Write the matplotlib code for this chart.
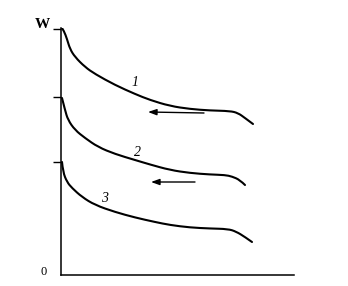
import matplotlib
matplotlib.use("Agg")
import matplotlib.pyplot as plt
from matplotlib.path import Path
from matplotlib.patches import PathPatch

# Curve data (arbitrary units: x = time, y = W)
c1_x = [1, 3, 6, 9, 14, 24, 34, 54, 74, 89, 109, 129, 149, 169, 177, 184, 192]
c1_y = [247, 244, 236, 226, 218, 208, 201, 190, 181, 175, 169, 166, 164.5, 164, 162, 157, 151]

c2_x = [1, 4, 7, 14, 24, 37, 54, 74, 89, 109, 129, 149, 164, 171, 179, 184]
c2_y = [177, 165, 155, 145, 137, 128, 121, 115, 110.5, 105, 102, 100.5, 100, 98.5, 95, 90]

c3_x = [1, 2, 6, 11, 21, 34, 54, 74, 94, 109, 129, 149, 167, 175, 184, 191]
c3_y = [113, 103, 93, 87, 78, 70, 63, 57.5, 53, 50, 47.5, 46.5, 46, 43.5, 38, 33]

curve_labels = ["1", "2", "3"]
label_pos = [(74, 192), (77, 122), (44, 77)]

arrow_start = [(143, 162), (134, 93)]
arrow_end = [(87, 163), (90, 93)]

ytick_vals = [246, 178, 113]

fig = plt.figure(figsize=(3.48, 2.86), dpi=100)
ax = fig.add_axes([61/348, 11/286, 233/348, 247/286])
ax.set_xlim(0, 233)
ax.set_ylim(0, 247)


def smooth_path(xs, ys):
    pts = list(zip(xs, ys))
    verts = [pts[0]]
    codes = [Path.MOVETO]
    for i in range(1, len(pts) - 1):
        p, q = pts[i], pts[i + 1]
        end = q if i == len(pts) - 2 else ((p[0] + q[0]) / 2, (p[1] + q[1]) / 2)
        verts += [p, end]
        codes += [Path.CURVE3, Path.CURVE3]
    return Path(verts, codes)


for xs, ys in [(c1_x, c1_y), (c2_x, c2_y), (c3_x, c3_y)]:
    ax.add_patch(PathPatch(smooth_path(xs, ys), facecolor="none", edgecolor="black",
                           lw=1.5, capstyle="round", joinstyle="round"))

for txt, (lx, ly) in zip(curve_labels, label_pos):
    ax.text(lx, ly, txt, fontsize=10, style="italic", family="Liberation Serif",
            ha="center", va="center", color="black")

for s, e in zip(arrow_start, arrow_end):
    ax.annotate("", xy=e, xytext=s,
                arrowprops=dict(arrowstyle="-|>,head_length=0.5,head_width=0.18",
                                color="black", lw=1.0, shrinkA=0, shrinkB=0))

for side in ["top", "right"]:
    ax.spines[side].set_visible(False)
for side in ["left", "bottom"]:
    ax.spines[side].set_linewidth(1.1)
    ax.spines[side].set_color("black")

ax.set_xticks([])
ax.set_yticks(ytick_vals)
ax.set_yticklabels([])
ax.tick_params(axis="y", direction="out", length=6, width=1.0, color="black")

ax.text(-19, 251, "W", fontsize=11, fontweight="bold", family="Liberation Serif",
        ha="center", va="center", clip_on=False)
ax.text(-17, 3, "0", fontsize=9, family="Liberation Serif",
        ha="center", va="center", clip_on=False)

fig.savefig("out.png", dpi=100, facecolor="white")
